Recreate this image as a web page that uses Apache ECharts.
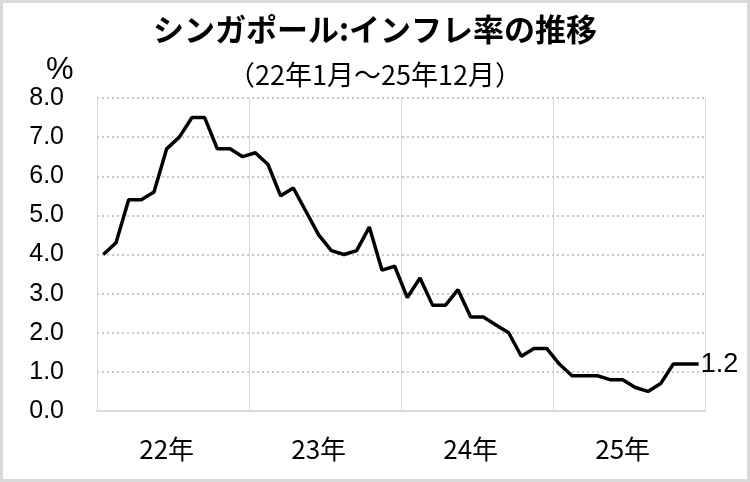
<!DOCTYPE html>
<html><head><meta charset="utf-8">
<script src="https://cdn.jsdelivr.net/npm/echarts@6/dist/echarts.min.js"></script>
<style>html,body{margin:0;padding:0;background:#fff}#c{width:750px;height:482px;box-sizing:border-box;border:3px solid #d9d9d9}</style>
</head><body><div id="c"></div>
<script>
const years = ['22年','23年','24年','25年'];
const months = [];
years.forEach(y => { for (let m = 1; m <= 12; m++) months.push(y + m + '月'); });
const inflation = [
  4.0,4.3,5.4,5.4,5.6,6.7,7.0,7.5,7.5,6.7,6.7,6.5,
  6.6,6.3,5.5,5.7,5.1,4.5,4.1,4.0,4.1,4.7,3.6,3.7,
  2.9,3.4,2.7,2.7,3.1,2.4,2.4,2.2,2.0,1.4,1.6,1.6,
  1.2,0.9,0.9,0.9,0.8,0.8,0.6,0.5,0.7,1.2,1.2,1.2
];
const yTicks = ['0.0','1.0','2.0','3.0','4.0','5.0','6.0','7.0','8.0'];
const title = 'シンガポール:インフレ率の推移';
const subtitle = '（22年1月～25年12月）';
const unit = '%';

const numFont = '"Liberation Sans","Noto Sans CJK JP",sans-serif';
const cjkFont = '"Noto Sans CJK JP",sans-serif';
const chart = echarts.init(document.getElementById('c'));
chart.setOption({
  animation: false,
  backgroundColor: '#fff',
  grid: {left: 94, right: 42, top: 95, bottom: 68},
  title: [
    {text: title, left: 'center', top: 6, textStyle: {fontFamily: cjkFont, fontSize: 31, fontWeight: 'bold', color: '#000'}},
    {text: subtitle, left: 'center', top: 53, textStyle: {fontFamily: cjkFont, fontSize: 27, fontWeight: 'normal', color: '#000'}},
    {text: unit, left: 38, top: 47, textStyle: {fontFamily: numFont, fontSize: 31, fontWeight: 'normal', color: '#000'}}
  ],
  xAxis: {
    type: 'category', data: months, boundaryGap: true,
    axisLine: {show: true, lineStyle: {color: '#d9d9d9', width: 2}},
    axisTick: {show: false},
    splitLine: {show: true, interval: (i) => i % 12 === 0, lineStyle: {color: '#d9d9d9', width: 1}},
    axisLabel: {
      interval: (i) => i % 12 === 5,
      formatter: (v) => v.slice(0, 3),
      margin: 25, fontFamily: cjkFont, fontSize: 26, color: '#000'
    }
  },
  yAxis: {
    type: 'value', min: 0, max: 8, interval: 1,
    axisLine: {show: false}, axisTick: {show: false},
    splitLine: {show: true, lineStyle: {color: '#c8c8c8', width: 2, type: [2, 3]}},
    axisLabel: {formatter: (v) => yTicks[v], margin: 33, fontFamily: numFont, fontSize: 25, color: '#000'}
  },
  series: [{
    type: 'line', data: inflation, symbol: 'none',
    lineStyle: {color: '#000', width: 3.5},
    endLabel: {show: true, formatter: (p) => p.value.toFixed(1), fontFamily: numFont, fontSize: 27, color: '#000', distance: 2}
  }]
});
</script></body></html>
